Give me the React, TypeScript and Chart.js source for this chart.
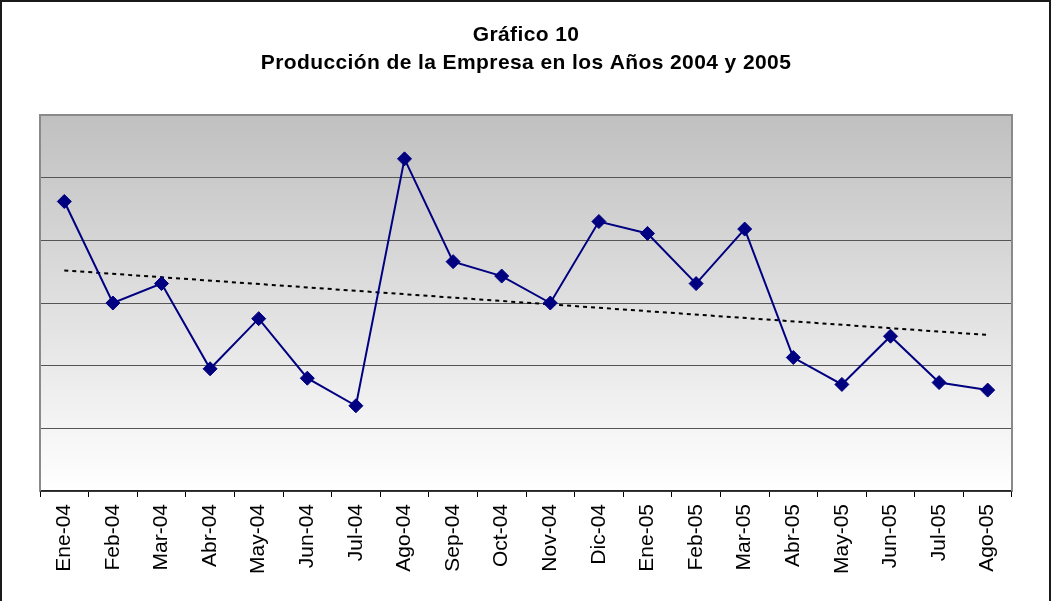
import React, { useEffect, useRef } from "react";
import { Chart, registerables } from "chart.js";

Chart.register(...registerables);

const months: string[] = [
  "Ene-04", "Feb-04", "Mar-04", "Abr-04", "May-04", "Jun-04", "Jul-04",
  "Ago-04", "Sep-04", "Oct-04", "Nov-04", "Dic-04", "Ene-05", "Feb-05",
  "Mar-05", "Abr-05", "May-05", "Jun-05", "Jul-05", "Ago-05",
];

const produccion: number[] = [
  4.62, 3.0, 3.31, 1.95, 2.75, 1.8, 1.36, 5.3, 3.66, 3.43,
  3.0, 4.3, 4.11, 3.31, 4.18, 2.13, 1.7, 2.47, 1.73, 1.61,
];

// trend line endpoints
const trendStart = 3.52;
const trendEnd = 2.49;

const titleLines: string[] = [
  "Gráfico 10",
  "Producción de la Empresa en los Años 2004 y 2005",
];

const yMin = 0;
const yMax = 6;

export default function App() {
  const ref = useRef<HTMLCanvasElement | null>(null);

  useEffect(() => {
    if (!ref.current) return;
    const trend: (number | null)[] = months.map((_, i) =>
      i === 0 ? trendStart : i === months.length - 1 ? trendEnd : null
    );

    const decor = {
      id: "decor",
      beforeDraw(chart: any) {
        const { ctx, chartArea: a, width, height } = chart;
        ctx.save();
        ctx.fillStyle = "#ffffff";
        ctx.fillRect(0, 0, width, height);
        const g = ctx.createLinearGradient(0, a.top, 0, a.bottom);
        g.addColorStop(0, "#c0c0c0");
        g.addColorStop(1, "#ffffff");
        ctx.fillStyle = g;
        ctx.fillRect(a.left, a.top, a.right - a.left, a.bottom - a.top);
        ctx.restore();
      },
      afterDraw(chart: any) {
        const { ctx, chartArea: a } = chart;
        ctx.save();
        // plot area frame (left, top, right)
        ctx.strokeStyle = "#8a8a8a";
        ctx.lineWidth = 2;
        ctx.beginPath();
        ctx.moveTo(a.left, a.bottom);
        ctx.lineTo(a.left, a.top);
        ctx.lineTo(a.right, a.top);
        ctx.lineTo(a.right, a.bottom);
        ctx.stroke();
        // outer frame
        ctx.strokeStyle = "#1a1a1a";
        ctx.lineWidth = 2;
        ctx.strokeRect(1, 1, 1049, 640);
        // title
        ctx.fillStyle = "#000000";
        ctx.textAlign = "center";
        ctx.textBaseline = "alphabetic";
        ctx.font = 'bold 21px "Liberation Sans", Arial, sans-serif';
        try { (ctx as any).letterSpacing = "0.4px"; } catch (e) {}
        const cx = (a.left + a.right) / 2;
        ctx.fillText(titleLines[0], cx, 41);
        ctx.fillText(titleLines[1], cx, 69);
        ctx.restore();
      },
    };

    const chart = new Chart(ref.current, {
      type: "line",
      data: {
        labels: months,
        datasets: [
          {
            label: "Producción",
            data: produccion,
            borderColor: "#000080",
            backgroundColor: "#000080",
            borderWidth: 2,
            pointStyle: "rectRot",
            pointRadius: 7,
            pointBorderWidth: 1,
            pointBackgroundColor: "#000080",
            pointBorderColor: "#000080",
            tension: 0,
          },
          {
            label: "Tendencia",
            data: trend,
            borderColor: "#000000",
            borderWidth: 2,
            borderDash: [4, 4],
            pointRadius: 0,
            spanGaps: true,
            tension: 0,
          },
        ],
      },
      options: {
        responsive: false,
        animation: false,
        layout: { padding: { top: 115, left: 40, right: 41, bottom: 0 } },
        plugins: {
          legend: { display: false },
          title: { display: false },
          tooltip: { enabled: false },
        },
        scales: {
          x: {
            type: "category",
            offset: true,
            grid: {
              offset: true,
              drawOnChartArea: false,
              drawTicks: true,
              tickLength: 6,
              color: "#000000",
              lineWidth: 1,
            },
            border: { display: true, color: "#222222", width: 1.5 },
            ticks: {
              autoSkip: false,
              maxRotation: 90,
              minRotation: 90,
              padding: 7,
              color: "#000000",
              font: { family: '"Liberation Sans", Arial, sans-serif', size: 21 },
            },
            afterFit(scale: any) {
              scale.height = 110;
            },
          },
          y: {
            min: yMin,
            max: yMax,
            ticks: { display: false, stepSize: 1 },
            grid: { color: "#555555", lineWidth: 1, drawTicks: false },
            border: { display: false },
            afterFit(scale: any) {
              scale.width = 0;
            },
          },
        },
      },
      plugins: [decor],
    });
    return () => chart.destroy();
  }, []);

  return (
    <div style={{ position: "fixed", left: 0, top: 0, width: 1053, height: 601 }}>
      <canvas ref={ref} width={1053} height={601} style={{ display: "block" }} />
    </div>
  );
}
